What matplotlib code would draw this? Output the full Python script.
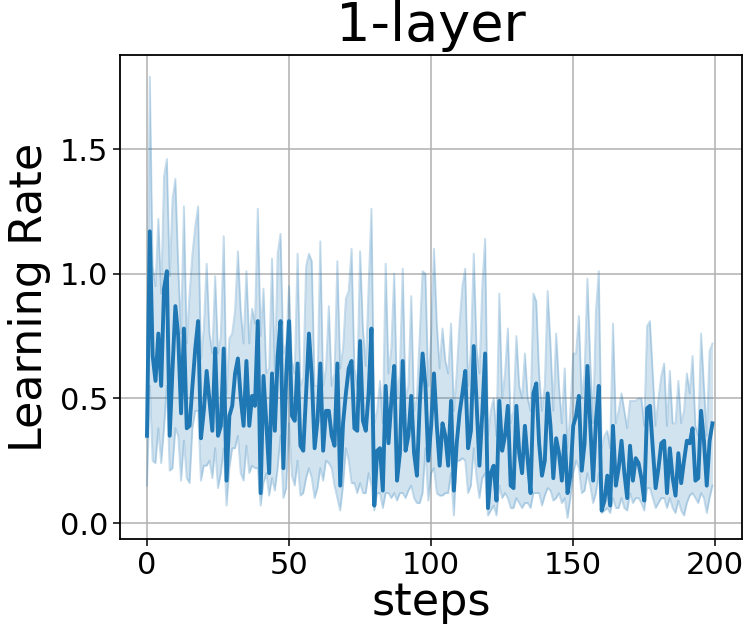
import numpy as np
import matplotlib
matplotlib.use('Agg')
from matplotlib import pyplot as plt

# mean learning rate per step
lr_mean = [
    0.35, 1.17, 0.67, 0.57, 0.76, 0.55, 0.94, 1.01, 0.35, 0.62,
    0.87, 0.75, 0.44, 0.78, 0.38, 0.39, 0.55, 0.70, 0.81, 0.34,
    0.45, 0.61, 0.49, 0.37, 0.70, 0.35, 0.39, 0.70, 0.17, 0.43,
    0.47, 0.60, 0.66, 0.50, 0.39, 0.65, 0.39, 0.51, 0.47, 0.81,
    0.12, 0.59, 0.40, 0.20, 0.60, 0.37, 0.67, 0.81, 0.22, 0.59,
    0.81, 0.43, 0.41, 0.64, 0.31, 0.29, 0.52, 0.76, 0.59, 0.30,
    0.41, 0.64, 0.29, 0.45, 0.45, 0.35, 0.31, 0.64, 0.15, 0.40,
    0.52, 0.62, 0.65, 0.38, 0.37, 0.73, 0.41, 0.37, 0.52, 0.78,
    0.07, 0.29, 0.30, 0.13, 0.55, 0.32, 0.49, 0.63, 0.17, 0.28,
    0.65, 0.29, 0.35, 0.51, 0.28, 0.19, 0.48, 0.68, 0.55, 0.25,
    0.39, 0.60, 0.39, 0.23, 0.40, 0.35, 0.23, 0.49, 0.13, 0.32,
    0.44, 0.52, 0.61, 0.30, 0.37, 0.71, 0.48, 0.23, 0.44, 0.68,
    0.06, 0.20, 0.23, 0.09, 0.49, 0.29, 0.35, 0.47, 0.15, 0.14,
    0.47, 0.28, 0.20, 0.39, 0.25, 0.12, 0.52, 0.56, 0.32, 0.19,
    0.25, 0.52, 0.39, 0.18, 0.34, 0.28, 0.17, 0.35, 0.12, 0.19,
    0.39, 0.43, 0.51, 0.21, 0.32, 0.63, 0.39, 0.17, 0.41, 0.55,
    0.05, 0.09, 0.19, 0.07, 0.39, 0.15, 0.22, 0.33, 0.20, 0.10,
    0.31, 0.17, 0.26, 0.24, 0.18, 0.09, 0.46, 0.47, 0.30, 0.14,
    0.22, 0.32, 0.33, 0.12, 0.30, 0.18, 0.11, 0.28, 0.16, 0.25,
    0.33, 0.32, 0.38, 0.17, 0.18, 0.45, 0.33, 0.15, 0.33, 0.40,
]

# upper edge of the confidence band
lr_upper = [
    0.60, 1.79, 1.03, 0.95, 1.22, 0.92, 1.39, 1.46, 0.99, 1.30,
    1.38, 1.03, 0.76, 1.27, 0.72, 0.92, 1.08, 1.19, 1.27, 0.66,
    0.78, 1.04, 0.76, 0.68, 0.99, 0.68, 0.75, 1.15, 0.52, 0.74,
    0.76, 0.85, 1.09, 0.85, 0.72, 1.01, 0.72, 0.86, 0.80, 1.26,
    0.75, 0.94, 0.60, 0.62, 1.06, 0.60, 1.08, 1.16, 0.68, 0.72,
    0.95, 0.65, 0.60, 1.08, 0.55, 0.58, 1.03, 1.08, 1.05, 0.55,
    0.55, 1.13, 0.55, 0.62, 0.87, 0.55, 0.60, 1.05, 0.62, 0.70,
    0.90, 0.93, 1.10, 0.62, 0.55, 1.09, 0.78, 0.63, 0.95, 1.26,
    0.40, 0.45, 0.57, 0.40, 1.04, 0.60, 0.70, 1.00, 0.50, 0.60,
    1.02, 0.50, 0.55, 0.91, 0.45, 0.50, 0.76, 1.01, 1.00, 0.55,
    0.75, 1.10, 0.80, 0.62, 0.78, 0.65, 0.60, 0.80, 0.45, 0.60,
    0.80, 0.95, 1.02, 0.55, 0.70, 1.08, 0.70, 0.60, 0.95, 1.14,
    0.35, 0.45, 0.50, 0.35, 0.92, 0.50, 0.60, 0.78, 0.40, 0.45,
    0.75, 0.55, 0.50, 0.68, 0.50, 0.45, 0.92, 0.89, 0.60, 0.45,
    0.55, 0.93, 0.72, 0.45, 0.76, 0.55, 0.40, 0.62, 0.30, 0.45,
    0.68, 0.68, 0.83, 0.50, 0.60, 0.98, 0.65, 0.40, 0.85, 1.01,
    0.30, 0.35, 0.37, 0.30, 0.80, 0.40, 0.45, 0.52, 0.45, 0.38,
    0.49, 0.49, 0.49, 0.50, 0.50, 0.39, 0.79, 0.81, 0.60, 0.39,
    0.50, 0.59, 0.64, 0.39, 0.61, 0.40, 0.40, 0.57, 0.40, 0.45,
    0.60, 0.52, 0.67, 0.39, 0.35, 0.76, 0.55, 0.35, 0.69, 0.72,
]

# lower edge of the confidence band
lr_lower = [
    0.15, 0.55, 0.25, 0.24, 0.38, 0.24, 0.38, 0.55, 0.21, 0.22,
    0.38, 0.35, 0.17, 0.33, 0.18, 0.16, 0.38, 0.45, 0.45, 0.17,
    0.23, 0.23, 0.25, 0.18, 0.30, 0.14, 0.20, 0.30, 0.07, 0.22,
    0.30, 0.30, 0.35, 0.20, 0.17, 0.31, 0.20, 0.23, 0.22, 0.22,
    0.07, 0.16, 0.20, 0.11, 0.18, 0.13, 0.22, 0.35, 0.10, 0.14,
    0.40, 0.19, 0.15, 0.25, 0.11, 0.12, 0.18, 0.22, 0.18, 0.10,
    0.14, 0.22, 0.17, 0.25, 0.24, 0.22, 0.15, 0.10, 0.05, 0.15,
    0.30, 0.25, 0.16, 0.16, 0.12, 0.16, 0.12, 0.12, 0.20, 0.15,
    0.05, 0.12, 0.12, 0.06, 0.12, 0.12, 0.10, 0.12, 0.09, 0.12,
    0.12, 0.10, 0.13, 0.15, 0.10, 0.08, 0.08, 0.12, 0.30, 0.09,
    0.20, 0.22, 0.12, 0.11, 0.11, 0.12, 0.12, 0.20, 0.03, 0.25,
    0.25, 0.26, 0.25, 0.12, 0.15, 0.30, 0.18, 0.10, 0.18, 0.20,
    0.03, 0.05, 0.07, 0.03, 0.15, 0.10, 0.12, 0.10, 0.06, 0.06,
    0.10, 0.08, 0.06, 0.08, 0.08, 0.06, 0.12, 0.12, 0.12, 0.07,
    0.11, 0.14, 0.13, 0.09, 0.10, 0.12, 0.08, 0.10, 0.02, 0.10,
    0.20, 0.25, 0.22, 0.12, 0.13, 0.20, 0.15, 0.08, 0.12, 0.20,
    0.04, 0.05, 0.06, 0.04, 0.10, 0.06, 0.06, 0.10, 0.06, 0.05,
    0.12, 0.08, 0.10, 0.10, 0.08, 0.05, 0.14, 0.14, 0.10, 0.06,
    0.08, 0.10, 0.10, 0.06, 0.10, 0.06, 0.04, 0.09, 0.05, 0.03,
    0.08, 0.11, 0.12, 0.10, 0.08, 0.12, 0.10, 0.04, 0.10, 0.15,
]

steps = np.arange(len(lr_mean))
x_ticks = [0, 50, 100, 150, 200]
y_ticks = [0.0, 0.5, 1.0, 1.5]

blue = '#1f77b4'

fig = plt.figure(figsize=(7.48, 6.39), dpi=100)
ax = fig.add_axes([0.1604, 0.1565, 0.8312, 0.7574])

# confidence band with its faint edges, then the mean line
ax.fill_between(steps, lr_lower, lr_upper, color=blue, alpha=0.2, linewidth=0)
ax.plot(steps, lr_upper, color=blue, alpha=0.25, linewidth=1.4)
ax.plot(steps, lr_lower, color=blue, alpha=0.25, linewidth=1.4)
ax.plot(steps, lr_mean, color=blue, linewidth=2.8)

ax.set_xlim(-9.5, 209.3)
ax.set_ylim(-0.064, 1.877)
ax.set_xticks(x_ticks)
ax.set_yticks(y_ticks)
ax.grid(True, color='#b0b0b0', linewidth=1.1)
ax.set_axisbelow(True)
ax.tick_params(labelsize=22, length=5, width=1.1)
for s in ax.spines.values():
    s.set_linewidth(1.3)

ax.set_title('1-layer', fontsize=39, pad=10)
ax.set_xlabel('steps', fontsize=32, labelpad=1)
ax.set_ylabel('Learning Rate', fontsize=32, labelpad=6)

plt.savefig('out.png', dpi=100)
